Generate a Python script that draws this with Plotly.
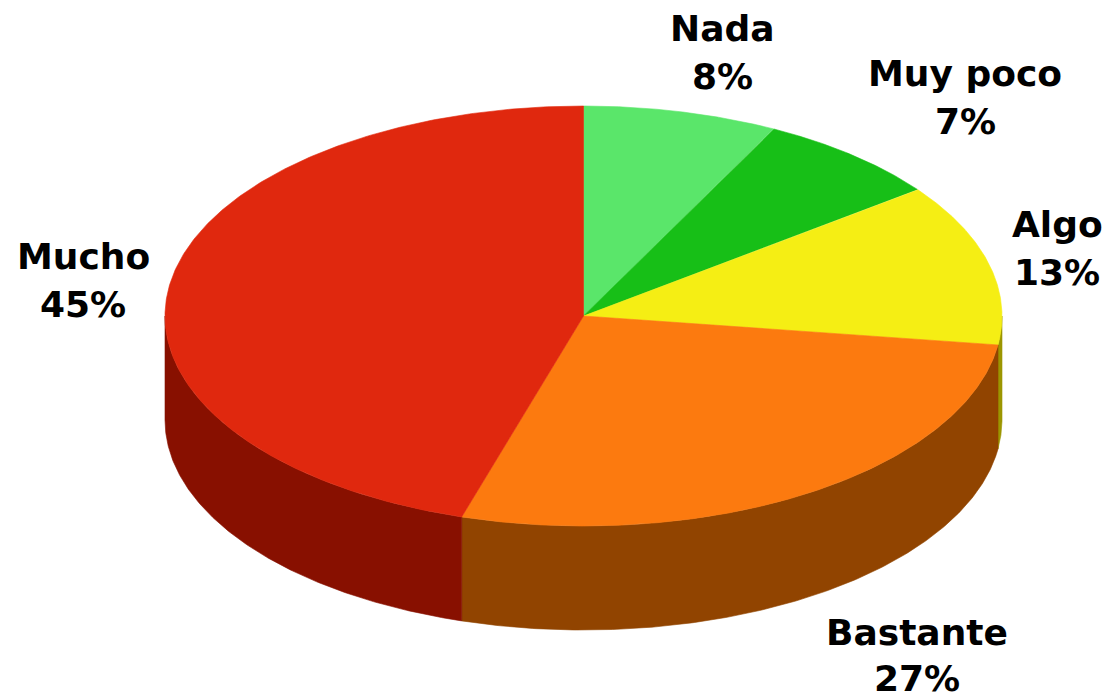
import numpy as np
import plotly.graph_objects as go

# ---- data ----
categories = ["Nada", "Muy poco", "Algo", "Bastante", "Mucho"]
values = [7.5, 7.2, 12.5, 27.5, 45.3]
pct_labels = ["8%", "7%", "13%", "27%", "45%"]

top_colors = ["#5AE66A", "#17BF17", "#F5EE14", "#FC7A0F", "#E0280E"]
side_colors = ["#2E8C38", "#0C700C", "#9C9600", "#914400", "#881000"]

# ---- geometry (layout) ----
PAGE_OFF = 8  # default body margin of the html page
W, H = 1110, 697
cx, cy, rx, ry, depth = 583.5, 316.0, 418.5, 210.0, 104.0
label_pos = [(722, 52), (965, 97), (1057, 248), (917, 655), (83, 280)]
line_gaps = [24, 24, 24, 23, 24]
font_size = 36


def ellipse(theta_deg, dy=0.0):
    t = np.radians(theta_deg)
    return cx + rx * np.sin(t), cy - ry * np.cos(t) + dy


total = float(sum(values))
bounds = np.concatenate([[0.0], np.cumsum(values)]) / total * 360.0

fig = go.Figure()

# side walls (front half only: 90..270 deg measured clockwise from top)
for i in range(len(values)):
    a = max(bounds[i], 90.0)
    b = min(bounds[i + 1], 270.0)
    if a >= b:
        continue
    th = np.linspace(a, b, 200)
    xt, yt = ellipse(th)
    xb, yb = ellipse(th[::-1], depth)
    xs = np.concatenate([xt, xb, xt[:1]])
    ys = np.concatenate([yt, yb, yt[:1]])
    fig.add_trace(go.Scatter(x=xs, y=ys, mode="lines", fill="toself",
                             fillcolor=side_colors[i],
                             line=dict(color=side_colors[i], width=0.6),
                             hoverinfo="skip", showlegend=False))

# top faces
for i in range(len(values)):
    th = np.linspace(bounds[i], bounds[i + 1], 300)
    xa, ya = ellipse(th)
    xs = np.concatenate([[cx], xa, [cx]])
    ys = np.concatenate([[cy], ya, [cy]])
    fig.add_trace(go.Scatter(x=xs, y=ys, mode="lines", fill="toself",
                             fillcolor=top_colors[i],
                             line=dict(color=top_colors[i], width=0.6),
                             name=categories[i],
                             hoverinfo="skip", showlegend=False))

annotations = []
for name, pct, (lx, ly), gap in zip(categories, pct_labels, label_pos, line_gaps):
    for txt, yy in ((name, ly - gap), (pct, ly + gap)):
        annotations.append(dict(x=lx, y=yy, xref="x", yref="y", text=txt,
                                showarrow=False, xanchor="center", yanchor="middle",
                                font=dict(family="DejaVu Sans", size=font_size,
                                          color="#000000", weight="bold")))

fig.update_layout(
    width=W - PAGE_OFF, height=H - PAGE_OFF,
    margin=dict(l=0, r=0, t=0, b=0),
    paper_bgcolor="white", plot_bgcolor="white",
    xaxis=dict(range=[PAGE_OFF, W], visible=False, fixedrange=True),
    yaxis=dict(range=[H, PAGE_OFF], visible=False, fixedrange=True),
    annotations=annotations,
)

fig.write_html("out.html")
